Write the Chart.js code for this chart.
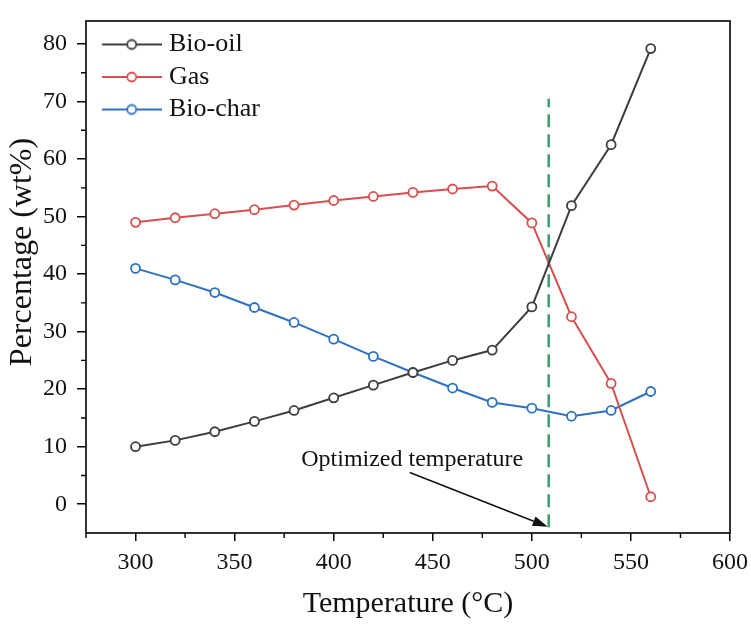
<!DOCTYPE html>
<html><head><meta charset="utf-8">
<script src="https://cdn.jsdelivr.net/npm/chart.js@4.4.0/dist/chart.umd.min.js"></script>
<style>html,body{margin:0;padding:0;background:#fff;}#wrap{width:751px;height:626px;}</style>
</head><body><div id="wrap"><canvas id="c" width="751" height="626"></canvas></div>
<script>
const temperatures = [300,320,340,360,380,400,420,440,460,480,500,520,540,560];
const bioOil  = [10.0,11.1,12.6,14.4,16.3,18.5,20.7,22.9,25.0,26.8,34.3,51.9,62.5,79.2];
const gas     = [49.0,49.8,50.5,51.2,52.0,52.8,53.5,54.2,54.8,55.3,48.9,32.6,21.0,1.3];
const bioChar = [41.0,39.0,36.8,34.2,31.6,28.7,25.7,22.9,20.2,17.7,16.7,15.3,16.3,19.6];
const seriesNames = ['Bio-oil','Gas','Bio-char'];
const xTicks = [300,350,400,450,500,550,600];
const yTicks = [0,10,20,30,40,50,60,70,80];
const optimizedTemp = 508.5;
const optimizedLineRange = [-4, 70.5];
const annotationText = 'Optimized temperature';
const annotationTextAt = [439.6, 7.7];
const arrowFrom = [438.4, 5.5];
const arrowTo = [508.0, -3.9];
const xTitle = 'Temperature (°C)';
const yTitle = 'Percentage (wt%)';

const colors = ['#3d3d3d', '#d6504f', '#2c71bf'];
const green = '#3a9f6c';
const FONT = "'Liberation Serif', 'Times New Roman', serif";

function markerImage(color) {
  const c = document.createElement('canvas');
  c.width = 76; c.height = 14;
  const g = c.getContext('2d');
  g.strokeStyle = color; g.lineWidth = 2;
  g.beginPath(); g.moveTo(15.75, 7); g.lineTo(76, 7); g.stroke();
  g.beginPath(); g.arc(45.5, 7, 4.5, 0, Math.PI * 2);
  g.fillStyle = '#fff'; g.fill(); g.lineWidth = 1.8; g.stroke();
  return c;
}
const markers = colors.map(markerImage);

const toXY = arr => temperatures.map((t, i) => ({x: t, y: arr[i]}));
const series = [bioOil, gas, bioChar];

const datasets = series.map((arr, i) => ({
  label: seriesNames[i],
  data: toXY(arr),
  borderColor: colors[i],
  backgroundColor: '#fff',
  pointBackgroundColor: '#fff',
  pointBorderColor: colors[i],
  pointRadius: 4.5,
  pointBorderWidth: 1.8,
  borderWidth: 2,
  tension: 0
}));
datasets.push({
  label: 'opt',
  data: optimizedLineRange.map(v => ({x: optimizedTemp, y: v})),
  borderColor: green,
  borderDash: [13, 7],
  borderWidth: 2.5,
  pointRadius: 0
});

const extras = {
  id: 'extras',
  afterDatasetsDraw(chart) {
    const ctx = chart.ctx, a = chart.chartArea;
    const xs = chart.scales.x, ys = chart.scales.y;
    ctx.save();
    // box
    ctx.strokeStyle = '#000'; ctx.lineWidth = 1.6;
    ctx.strokeRect(a.left, a.top, a.right - a.left, a.bottom - a.top);
    // minor ticks
    ctx.lineWidth = 1.4;
    ctx.beginPath();
    for (let v = 5; v < 84; v += 10) {
      const y = ys.getPixelForValue(v);
      ctx.moveTo(a.left, y); ctx.lineTo(a.left - 5, y);
    }
    for (let v = 275; v < 600; v += 50) {
      const x = xs.getPixelForValue(v);
      ctx.moveTo(x, a.bottom); ctx.lineTo(x, a.bottom + 5);
    }
    ctx.stroke();
    // y axis title
    ctx.fillStyle = '#111';
    ctx.save();
    ctx.translate(23, 252);
    ctx.rotate(-Math.PI / 2);
    ctx.font = '32px ' + FONT;
    ctx.textAlign = 'center'; ctx.textBaseline = 'middle';
    ctx.fillText(yTitle, 0, 0);
    ctx.restore();
    // annotation text
    ctx.font = '24px ' + FONT;
    ctx.textAlign = 'center'; ctx.textBaseline = 'middle';
    ctx.fillText(annotationText, xs.getPixelForValue(annotationTextAt[0]), ys.getPixelForValue(annotationTextAt[1]));
    // arrow
    const x1 = xs.getPixelForValue(arrowFrom[0]), y1 = ys.getPixelForValue(arrowFrom[1]);
    const x2 = xs.getPixelForValue(arrowTo[0]), y2 = ys.getPixelForValue(arrowTo[1]);
    const ang = Math.atan2(y2 - y1, x2 - x1);
    const hl = 15, hw = 5;
    ctx.strokeStyle = '#111'; ctx.lineWidth = 1.6;
    ctx.beginPath(); ctx.moveTo(x1, y1);
    ctx.lineTo(x2 - hl * Math.cos(ang), y2 - hl * Math.sin(ang)); ctx.stroke();
    ctx.beginPath();
    ctx.moveTo(x2, y2);
    ctx.lineTo(x2 - hl * Math.cos(ang) + hw * Math.sin(ang), y2 - hl * Math.sin(ang) - hw * Math.cos(ang));
    ctx.lineTo(x2 - hl * Math.cos(ang) - hw * Math.sin(ang), y2 - hl * Math.sin(ang) + hw * Math.cos(ang));
    ctx.closePath(); ctx.fill();
    ctx.restore();
  }
};

new Chart(document.getElementById('c'), {
  type: 'line',
  data: { datasets },
  plugins: [extras],
  options: {
    responsive: false,
    animation: false,
    layout: { padding: { top: 21, right: 21, left: 0, bottom: 0 } },
    plugins: {
      tooltip: { enabled: false },
      legend: {
        position: 'chartArea',
        align: 'start',
        title: { display: true, text: '', padding: { top: 13, bottom: 0 }, font: { size: 10 } },
        labels: {
          usePointStyle: true,
          pointStyleWidth: 63.5,
          padding: 6.5,
          color: '#111',
          font: { family: FONT, size: 26 },
          filter: item => item.datasetIndex < 3,
          generateLabels: chart => Chart.defaults.plugins.legend.labels.generateLabels(chart).map((it, i) => {
            it.pointStyle = markers[i] || it.pointStyle;
            return it;
          })
        }
      }
    },
    scales: {
      x: {
        type: 'linear', min: 275, max: 600,
        afterBuildTicks: s => { s.ticks = xTicks.map(v => ({ value: v })); },
        afterFit: s => { s.height = 93; s.paddingLeft = 0; s.paddingRight = 0; },
        ticks: { color: '#111', font: { family: FONT, size: 24 }, padding: 7, maxRotation: 0 },
        grid: { drawOnChartArea: false, tickLength: 8, color: '#000', lineWidth: 1.5 },
        border: { display: false },
        title: { display: true, text: xTitle, color: '#111', font: { family: FONT, size: 30 } }
      },
      y: {
        type: 'linear', min: -5, max: 84,
        afterBuildTicks: s => { s.ticks = yTicks.map(v => ({ value: v })); },
        afterFit: s => { s.width = 86; s.paddingTop = 0; s.paddingBottom = 0; },
        ticks: { color: '#111', font: { family: FONT, size: 24 }, padding: 10 },
        grid: { drawOnChartArea: false, tickLength: 9, color: '#000', lineWidth: 1.5 },
        border: { display: false }
      }
    }
  }
});
</script></body></html>
